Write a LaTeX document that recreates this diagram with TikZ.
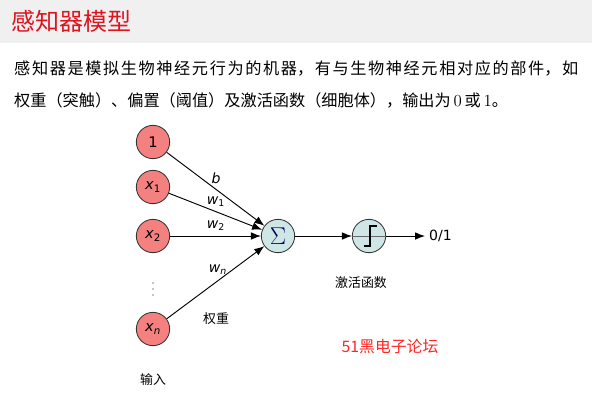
\documentclass[tikz,border=0pt]{standalone}
\usepackage{fontspec}
\setmainfont{Noto Sans CJK SC}
\newfontfamily\lblfont{DejaVu Sans}
\usetikzlibrary{arrows.meta}
\XeTeXlinebreaklocale "zh"
\XeTeXlinebreakskip=0pt plus 1pt
\definecolor{titlered}{RGB}{222,20,30}
\definecolor{inred}{RGB}{245,128,128}
\definecolor{sumblue}{RGB}{206,230,230}
\definecolor{bargray}{RGB}{240,240,240}
% italic sans variable with index
\newcommand{\var}[2]{{\itshape #1}\textsubscript{#2}}
\tikzset{
  neuron/.style={circle, draw=black!80, line width=0.7pt, minimum size=1.0cm, inner sep=0pt,
    font=\lblfont\fontsize{12.5}{13}\selectfont},
  innode/.style={neuron, fill=inred},
  opnode/.style={neuron, fill=sumblue},
  conn/.style={line width=0.8pt, -{Latex[length=3mm,width=2.3mm]}},
  wlabel/.style={font=\lblfont\fontsize{12}{13}\selectfont},
  caption/.style={font=\fontsize{11}{12}\selectfont},
}
\begin{document}
\begin{tikzpicture}[x=0.03cm, y=-0.03cm]
  \useasboundingbox (0,0) rectangle (592,407);
  % title bar
  \fill[bargray] (0,0) rectangle (592,43);
  \node[anchor=west, text=titlered, font=\fontsize{20.5}{22}\selectfont] (title) at (7,21) {感知器模型};
  % text
  \node[anchor=north west, text width=16.92cm, align=justify, inner sep=0pt,
        font=\fontsize{13.8}{27.2}\selectfont] (intro) at (14,61)
    {感知器是模拟生物神经元行为的机器，有与生物神经元相对应的部件，如\linebreak
     权重（突触）、偏置（阈值）及激活函数（细胞体），输出为$\,0\,$或$\,1$。};
  % inputs
  \node[innode] (one) at (153,142) {1};
  \node[innode] (x1) at (153,187) {\var{x}{1}};
  \node[innode] (x2) at (153,236) {\var{x}{2}};
  \node[innode] (xn) at (153,329) {\var{x}{\itshape n}};
  \foreach \y in {283,289,295}
    \fill (153,\y) circle (0.5pt);
  % sum and activation
  \node[opnode] (sum) at (278,236) {\fontsize{20}{20}\selectfont$\color{blue!35!black}\Sigma$};
  \node[opnode] (act) at (369,236) {};
  \draw[black!60, line width=0.5pt] (act.west) -- (act.east);
  \draw[line width=0.9pt] ([shift={(-5,10)}]act.center) -- ([shift={(1,10)}]act.center)
    -- ([shift={(1,-10)}]act.center) -- ([shift={(8,-10)}]act.center);
  \node[anchor=west, wlabel] (out) at (425,236) {0/1};
  % connections
  \draw[conn] (one) -- (sum);
  \draw[conn] (x1) -- (sum);
  \draw[conn] (x2) -- (sum);
  \draw[conn] (xn) -- (sum);
  \draw[conn] (sum) -- (act);
  \draw[conn] (act) -- (out);
  % weights
  \node[wlabel] (b) at (216,178) {\itshape b};
  \node[wlabel] (w1) at (216,202) {\var{w}{1}};
  \node[wlabel] (w2) at (216,226) {\var{w}{2}};
  \node[wlabel] (wn) at (218,270) {\var{w}{\itshape n}};
  % captions
  \node[caption] (weight) at (216,319) {权重};
  \node[caption] (actfn) at (361,283) {激活函数};
  \node[caption] (input) at (153,380) {输入};
  \node[text=red!85, font=\fontsize{13.5}{14}\selectfont] (mark) at (390,346) {51黑电子论坛};
\end{tikzpicture}
\end{document}
